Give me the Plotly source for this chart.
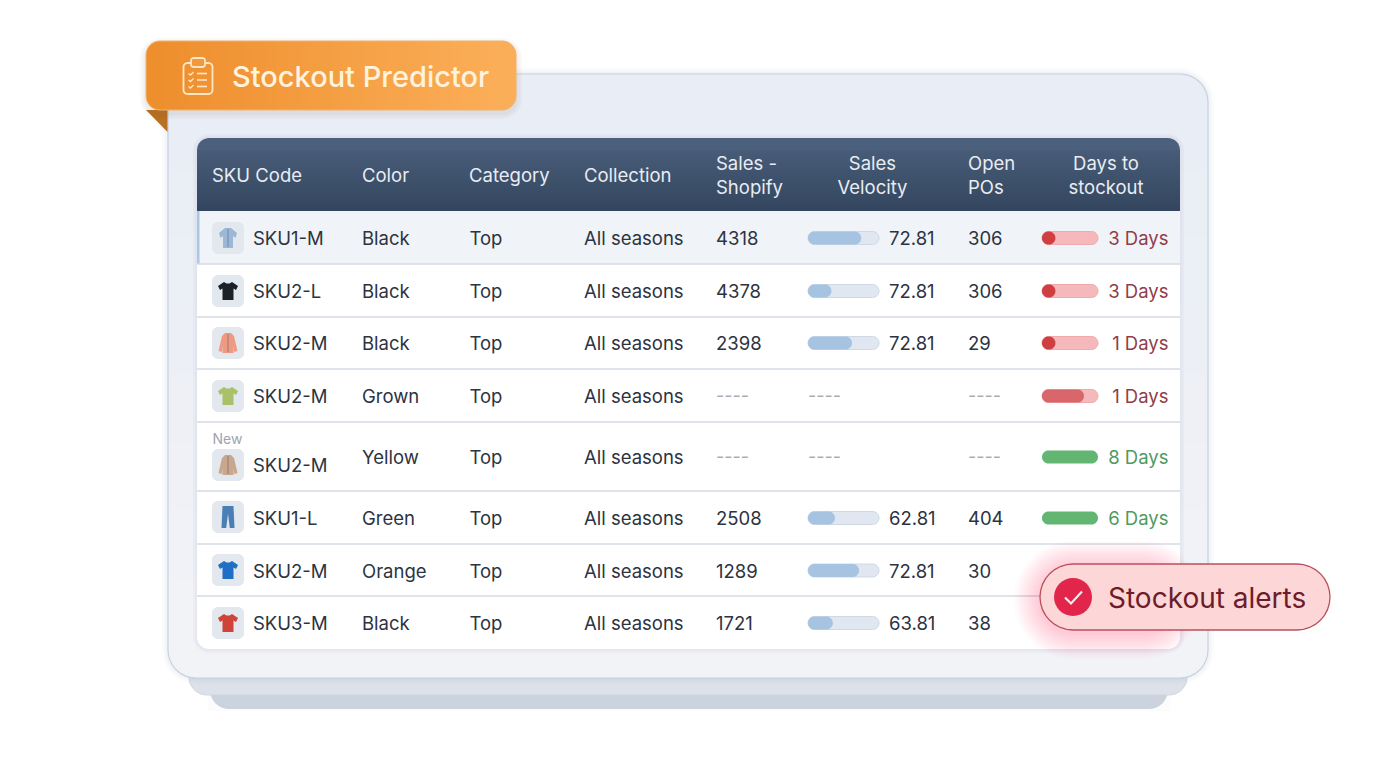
import math

import plotly.graph_objects as go

# table contents, one list per column
sku_codes = ["SKU1-M", "SKU2-L", "SKU2-M", "SKU2-M", "SKU2-M", "SKU1-L", "SKU2-M", "SKU3-M"]
colors = ["Black", "Black", "Black", "Grown", "Yellow", "Green", "Orange", "Black"]
categories = ["Top"] * 8
collections = ["All seasons"] * 8
sales_shopify = ["4318", "4378", "2398", "----", "----", "2508", "1289", "1721"]
sales_velocity = ["72.81", "72.81", "72.81", "----", "----", "62.81", "72.81", "63.81"]
open_pos = ["306", "306", "29", "----", "----", "404", "30", "38"]
# the last two rows are covered by the alert pill in the picture
days_to_stockout = ["3 Days", "3 Days", "1 Days", "1 Days", "8 Days", "6 Days", "", ""]
velocity_fill = [0.75, 0.33, 0.62, None, None, 0.38, 0.72, 0.35]
stock_fill = [0.24, 0.24, 0.24, 0.75, 1.0, 1.0, None, None]
stock_status = ["low", "low", "low", "low", "ok", "ok", "low", "low"]
garments = ["shirt", "tee", "jacket", "tee", "jacket", "jeans", "tee", "tee"]
garment_colors = ["#9db8d6", "#1c2129", "#ee9a82", "#a9c26a", "#c9a68c", "#4a7fb5", "#1f6fc4", "#cf4338"]
headers = ["SKU Code", "Color", "Category", "Collection", "Sales -<br>Shopify",
           "Sales<br>Velocity", "Open<br>POs", "Days to<br>stockout"]

# layout of the rows (top border of each row, last is table bottom)
ROW_EDGES = [211, 264, 317, 369, 422, 491, 544, 596, 648]
ROW_TEXT_Y = [240.5, 293.5, 345.5, 398.5, 459.5, 520.5, 573, 625.5]
BAR_Y = [238, 291, 343, 396, 457, 518, 570.5, 623]
ICON_Y = [238, 291, 343, 396, 465, 517, 570, 623]
TEXT_DARK = "#2c3341"
TEXT_SIZE = 18.5
GARMENT_SHAPES = {
    "tee": [(-4, -9), (-1.5, -7.5), (1.5, -7.5), (4, -9), (10, -5), (8, -1), (5.5, -2.5),
            (5.5, 9), (-5.5, 9), (-5.5, -2.5), (-8, -1), (-10, -5)],
    "shirt": [(-3, -10), (3, -10), (9, -5), (7.5, 0), (5, -2), (5, 10), (-5, 10),
              (-5, -2), (-7.5, 0), (-9, -5)],
    "jacket": [(-3, -10), (3, -10), (6, -7), (9.5, 8), (6, 9), (5, 3), (5.5, 10),
               (-5.5, 10), (-5, 3), (-6, 9), (-9.5, 8), (-6, -7)],
    "jeans": [(-5.5, -11), (5.5, -11), (6.5, 11), (1.8, 11), (0, -3), (-1.8, 11), (-6.5, 11)],
}

shapes = []


def arc(cx, cy, r, start):
    return [
        (cx + r * math.cos(start + k * math.pi / 16), cy + r * math.sin(start + k * math.pi / 16))
        for k in range(9)
    ]


def rounded(x0, y0, x1, y1, r, r_bottom=None):
    rb = r if r_bottom is None else r_bottom
    pts = (
        arc(x1 - r, y0 + r, r, -math.pi / 2)
        + arc(x1 - rb, y1 - rb, rb, 0)
        + arc(x0 + rb, y1 - rb, rb, math.pi / 2)
        + arc(x0 + r, y0 + r, r, math.pi)
    )
    return "M" + " L".join(f"{px:.2f},{py:.2f}" for px, py in pts) + " Z"


def add_path(path, fill, line=None, width=1, layer="below"):
    shapes.append(dict(
        type="path", path=path, xref="x", yref="y", fillcolor=fill, layer=layer,
        line=dict(color=line or "rgba(0,0,0,0)", width=width if line else 0),
    ))


def add_rect(x0, y0, x1, y1, fill):
    shapes.append(dict(type="rect", x0=x0, x1=x1, y0=y0, y1=y1, xref="x", yref="y",
                       layer="below", fillcolor=fill, line_width=0))


def add_line(x0, y0, x1, y1, color, width):
    shapes.append(dict(type="line", x0=x0, x1=x1, y0=y0, y1=y1, xref="x", yref="y",
                       layer="below", line=dict(color=color, width=width)))


def add_soft_shadow(x0, y0, x1, y1, r, rgb, alpha, spread, layer="below"):
    for i in range(spread, 0, -2):
        add_path(rounded(x0 - i, y0 - i, x1 + i, y1 + i, r + i),
                 f"rgba({rgb},{alpha})", layer=layer)


def mix(c1, c2, t):
    a = [int(c1[i:i + 2], 16) for i in (1, 3, 5)]
    b = [int(c2[i:i + 2], 16) for i in (1, 3, 5)]
    return "#" + "".join(f"{round(p + (q - p) * t):02x}" for p, q in zip(a, b))


def polygon(points, cx, cy):
    return "M" + " L".join(f"{cx + px},{cy + py}" for px, py in points) + " Z"


def pill(x0, x1, y, h, fill, line=None):
    add_path(rounded(x0, y - h / 2, x1, y + h / 2, h / 2), fill, line=line)


# stacked sheets under the card
add_soft_shadow(210, 690, 1168, 709, 0, "150,165,190", 0.03, 2)
add_path(rounded(210, 690, 1168, 709, 0, 19), "#cbd3df")
add_path(rounded(189, 677, 1187, 695, 0, 18), "#dde2ea", line="#cfd6e1")

# card, gradient in 1 level steps with solid rounded caps
add_soft_shadow(168, 74, 1208, 678, 28, "120,140,170", 0.035, 6)
add_path(rounded(168, 74, 1208, 400, 28, 0), "#e9edf5")
add_path(rounded(168, 400, 1208, 678, 0, 28), "#f1f3f7")
card_steps = 8
for i in range(card_steps):
    add_rect(168, 102 + i * 68, 1208, 102 + (i + 1) * 68, mix("#e9edf5", "#f1f3f7", i / (card_steps - 1)))
add_path(rounded(168, 74, 1208, 678, 28), "rgba(0,0,0,0)", line="#c8d1de", width=1.2)

# table body
add_soft_shadow(197, 138, 1180, 649, 12, "130,145,170", 0.05, 4)
add_path(rounded(197, 138, 1180, 649, 12), "#ffffff")

# header band with vertical gradient, one pixel row at a time
add_path(rounded(197, 138, 1180, 170, 12, 0), "#4b607c")
for row in range(12, 73):
    add_rect(197, 138 + row, 1180, 138 + row + 1, mix("#4b607c", "#34465f", row / 72))

# highlighted first row
add_rect(197, ROW_EDGES[0], 1180, ROW_EDGES[1], "#f0f3f8")
add_rect(197, ROW_EDGES[0], 199.5, ROW_EDGES[1], "#aac7e4")

# row separators
for edge in ROW_EDGES[1:-1]:
    add_line(197, edge, 1180, edge, "#d5dbe3", 1.3)

# sku thumbnails
for i, kind in enumerate(garments):
    cy = ICON_Y[i]
    add_path(rounded(212, cy - 16, 244, cy + 16, 6), "#e3e7ee")
    add_path(polygon(GARMENT_SHAPES[kind], 228, cy), garment_colors[i])
    if kind in ("shirt", "jacket"):
        add_line(228, cy - 9, 228, cy + 9, mix(garment_colors[i], "#34465f", 0.35), 1.2)

# velocity bars
VEL_X0, VEL_X1 = 808, 879
for i, frac in enumerate(velocity_fill):
    if frac is None:
        continue
    pill(VEL_X0, VEL_X1, BAR_Y[i], 13, "#e0e7f0", line="#cfd9e6")
    pill(VEL_X0, VEL_X0 + (VEL_X1 - VEL_X0) * frac, BAR_Y[i], 13, "#a6c4e2")

# stock bars
STOCK_X0, STOCK_X1 = 1042, 1098
for i, frac in enumerate(stock_fill):
    if frac is None:
        continue
    end = STOCK_X0 + (STOCK_X1 - STOCK_X0) * frac
    if stock_status[i] == "ok":
        pill(STOCK_X0, end, BAR_Y[i], 13, "#63b572")
    else:
        pill(STOCK_X0, STOCK_X1, BAR_Y[i], 13, "#f6b9bb", line="#f0a9ac")
        pill(STOCK_X0, end, BAR_Y[i], 13, "#cf3f42" if frac < 0.5 else "#d9666b")

# banner fold and banner
add_path(polygon([(146, 110), (167.5, 110), (167.5, 132)], 0, 0), "#b9701f")
add_soft_shadow(146, 44, 516, 113, 14, "120,110,100", 0.04, 6)
add_path(rounded(146, 41, 300, 110, 14, 14), "#ee8f2e")
add_path(rounded(360, 41, 516, 110, 14, 14), "#fbae58")
for px in range(160, 502, 2):
    add_rect(px, 41, px + 2, 110, mix("#ee8f2e", "#fbae58", (px - 160) / 340))
add_path(rounded(146, 41, 516, 110, 14), "rgba(0,0,0,0)", line="#f3b26d", width=1)

# clipboard icon on the banner
ICON_LINE = "#fde6c6"
add_path(rounded(183.5, 63, 212.5, 94, 4), "rgba(0,0,0,0)", line=ICON_LINE, width=1.8)
add_path(rounded(191, 58, 205, 67, 2.5), "#f19a3d", line=ICON_LINE, width=1.8)
for row_y in (73.5, 80, 86.5):
    add_line(197, row_y, 207, row_y, ICON_LINE, 1.6)
    add_path(f"M188.5,{row_y} L190.5,{row_y + 1.5} L193.5,{row_y - 1.5}", "rgba(0,0,0,0)",
             line=ICON_LINE, width=1.4)

# alert pill sits above the table text, glow only towards the card
add_soft_shadow(1040, 567, 1176, 633, 33, "240,60,80", 0.02, 26, layer="above")
add_path(rounded(1040, 564, 1330, 630, 33), "#fdd6d7", line="#b9515d", width=1.3, layer="above")
shapes.append(dict(type="circle", x0=1054, x1=1092, y0=578, y1=616, xref="x", yref="y",
                   layer="above", fillcolor="#e1254b", line_width=0))
add_path("M1065,597.5 L1071,603.5 L1082,591.5", "rgba(0,0,0,0)", line="#ffe9ec", width=2.2, layer="above")

fig = go.Figure()


def add_text(xs, ys, labels, size, color, position="middle right", family="Inter"):
    fig.add_trace(go.Scatter(
        x=xs, y=ys, text=labels, mode="text", textposition=position, hoverinfo="skip",
        cliponaxis=False, textfont=dict(family=family, size=size, color=color),
    ))


# header labels
HEADER_Y = 177.5
add_text([212, 362, 469, 584], [HEADER_Y] * 4, headers[:4], TEXT_SIZE, "#e8edf3")
add_text([716], [HEADER_Y], [headers[4]], TEXT_SIZE, "#e8edf3")
add_text([968], [HEADER_Y], [headers[6]], TEXT_SIZE, "#e8edf3")
add_text([872.5, 1106], [HEADER_Y] * 2, [headers[5], headers[7]], TEXT_SIZE, "#e8edf3",
         position="middle center")

# table columns
icon_text_y = [y if i != 4 else 467.5 for i, y in enumerate(ROW_TEXT_Y)]
add_text([253] * 8, icon_text_y, sku_codes, TEXT_SIZE, TEXT_DARK)
add_text([362] * 8, ROW_TEXT_Y, colors, TEXT_SIZE, TEXT_DARK)
add_text([469.5] * 8, ROW_TEXT_Y, categories, TEXT_SIZE, TEXT_DARK)
add_text([584] * 8, ROW_TEXT_Y, collections, TEXT_SIZE, TEXT_DARK)

for x, empty_x, column in ((716, 716, sales_shopify), (889, 808, sales_velocity), (968, 968, open_pos)):
    filled = [i for i, v in enumerate(column) if v != "----"]
    empty = [i for i, v in enumerate(column) if v == "----"]
    add_text([x] * len(filled), [ROW_TEXT_Y[i] for i in filled], [column[i] for i in filled], TEXT_SIZE, TEXT_DARK)
    add_text([empty_x] * len(empty), [BAR_Y[i] + 1 for i in empty], [column[i] for i in empty], 18, "#a8acb2")

for status, color in (("low", "#8f3d48"), ("ok", "#4f9a60")):
    picked = [i for i, s in enumerate(stock_status) if s == status and days_to_stockout[i]]
    add_text([1168.5] * len(picked), [ROW_TEXT_Y[i] for i in picked], [days_to_stockout[i] for i in picked],
             TEXT_SIZE, color, position="middle left")

add_text([212.5], [440], ["New"], 14, "#a0a5ac")

fig.update_layout(
    width=1376,
    height=768,
    margin=dict(l=0, r=0, t=0, b=0),
    paper_bgcolor="white",
    plot_bgcolor="white",
    showlegend=False,
    shapes=shapes,
    xaxis=dict(range=[0, 1376], visible=False, fixedrange=True),
    yaxis=dict(range=[768, 0], visible=False, fixedrange=True),
    annotations=[
        dict(x=230, y=76, text="Stockout Predictor", showarrow=False, xanchor="left", xref="x", yref="y",
             font=dict(family="Inter", size=29, color="#fff3df", weight=500)),
        dict(x=1106, y=597.5, text="Stockout alerts", showarrow=False, xanchor="left", xref="x", yref="y",
             font=dict(family="Inter", size=28, color="#6e1c2a")),
    ],
)

fig.write_html(
    "out.html",
    config=dict(displayModeBar=False),
    post_script="document.body.style.margin='0';document.body.style.overflow='hidden';",
)
